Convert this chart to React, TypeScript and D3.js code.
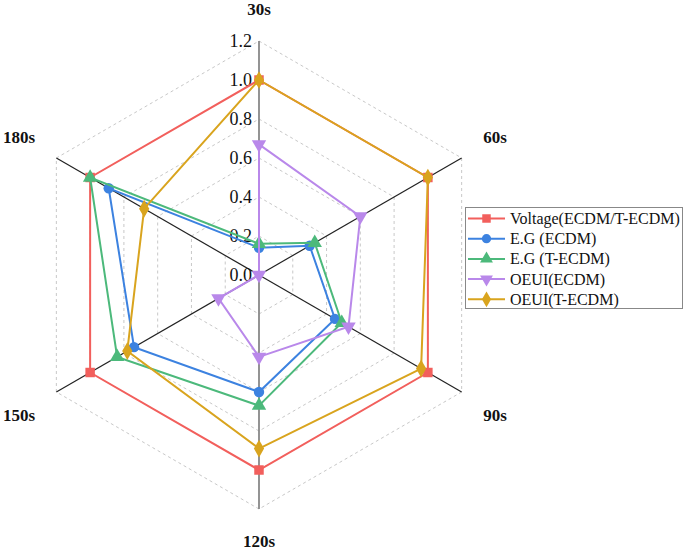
import React from "react";
import * as d3 from "d3";

const axes = ["30s", "60s", "90s", "120s", "150s", "180s"];
const ticks = [0.0, 0.2, 0.4, 0.6, 0.8, 1.0, 1.2];
const seriesNames = ["Voltage(ECDM/T-ECDM)", "E.G (ECDM)", "E.G (T-ECDM)", "OEUI(ECDM)", "OEUI(T-ECDM)"];
const voltage = [1.0, 1.0, 1.0, 1.0, 1.0, 1.0];
const egEcdm = [0.14, 0.3, 0.45, 0.6, 0.74, 0.89];
const egTecdm = [0.16, 0.33, 0.49, 0.67, 0.84, 1.0];
const oeuiEcdm = [0.67, 0.6, 0.53, 0.42, 0.24, 0.0];
const oeuiTecdm = [1.0, 1.0, 0.96, 0.89, 0.78, 0.68];
const seriesValues = [voltage, egEcdm, egTecdm, oeuiEcdm, oeuiTecdm];
const colors = ["#f25f5c", "#3c82e0", "#4cb97b", "#b988ea", "#d9a41e"];
const symbols = [d3.symbolSquare, d3.symbolCircle, d3.symbolTriangle, d3.symbolTriangle, d3.symbolDiamond];
const symbolRot = [0, 0, 0, 180, 0];
const symbolSize = [90, 85, 90, 90, 90];

const cx = 259;
const cy = 275;
const r = d3.scaleLinear().domain([0, 1.2]).range([0, 234]);
const ang = (i: number) => -Math.PI / 2 + (i * Math.PI) / 3;
const pt = (i: number, v: number): [number, number] => [cx + r(v) * Math.cos(ang(i)), cy + r(v) * Math.sin(ang(i))];

const labelPos: { x: number; y: number }[] = [
  { x: 259, y: 15 },
  { x: 495, y: 143 },
  { x: 495, y: 421 },
  { x: 259, y: 547 },
  { x: 19, y: 421 },
  { x: 19, y: 143 },
];

const serif = "'Liberation Serif', 'Times New Roman', Times, serif";

export default function App() {
  const line = d3.line<[number, number]>();
  return (
    <svg width={685} height={552} style={{ position: "absolute", left: 0, top: 0, background: "#fff" }}>
      <rect width={685} height={552} fill="#fff" />
      {ticks.slice(1).map((t) => (
        <path
          key={t}
          d={line(axes.map((_, i) => pt(i, t)))! + "Z"}
          fill="none"
          stroke="#c8c8c8"
          strokeWidth={1}
          strokeDasharray="3,3"
        />
      ))}
      {axes.map((_, i) => {
        if (i === 0 || i === 3) return null;
        const [x, y] = pt(i, 1.2);
        return <line key={i} x1={cx} y1={cy} x2={x} y2={y} stroke="#222" strokeWidth={1.2} />;
      })}
      <line x1={cx} y1={pt(0, 1.2)[1]} x2={cx} y2={pt(3, 1.2)[1]} stroke="#888" strokeWidth={1.8} />
      {ticks.map((t) => (
        <text key={t} x={252} y={cy - r(t) + 6} textAnchor="end" style={{ fontFamily: serif, fontSize: 18 }} fill="#111">
          {t.toFixed(1)}
        </text>
      ))}
      {seriesValues.map((vals, s) => (
        <g key={s}>
          <path
            d={line(vals.map((v, i) => pt(i, v)))! + "Z"}
            fill="none"
            stroke={colors[s]}
            strokeWidth={2}
          />
          {vals.map((v, i) => {
            const [x, y] = pt(i, v);
            return (
              <path
                key={i}
                d={d3.symbol(symbols[s], symbolSize[s])()!}
                transform={`translate(${x},${y}) rotate(${symbolRot[s]})`}
                fill={colors[s]}
              />
            );
          })}
        </g>
      ))}
      {axes.map((a, i) => (
        <text
          key={a}
          x={labelPos[i].x}
          y={labelPos[i].y}
          textAnchor="middle"
          style={{ fontFamily: serif, fontSize: 17, fontWeight: 700 }}
          fill="#111"
        >
          {a}
        </text>
      ))}
      <g>
        <rect x={465.5} y={207.5} width={217} height={101} fill="#fff" stroke="#888" strokeWidth={1} />
        {seriesNames.map((n, s) => {
          const y = 218.5 + s * 20.2;
          return (
            <g key={n}>
              <line x1={468} x2={505} y1={y} y2={y} stroke={colors[s]} strokeWidth={2} />
              <path
                d={d3.symbol(symbols[s], symbolSize[s] * 0.8)()!}
                transform={`translate(${486.5},${y}) rotate(${symbolRot[s]})`}
                fill={colors[s]}
              />
              <text x={510} y={y + 5.5} style={{ fontFamily: serif, fontSize: 16 }} fill="#111">
                {n}
              </text>
            </g>
          );
        })}
      </g>
    </svg>
  );
}
